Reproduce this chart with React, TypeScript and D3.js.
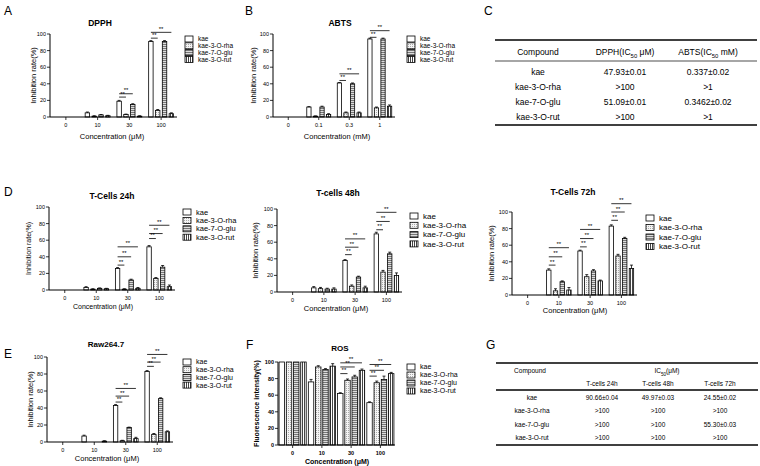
import * as d3 from "d3";
import React from "react";

const seriesNames = ["kae", "kae-3-O-rha", "kae-7-O-glu", "kae-3-O-rut"];
const concUM = ["0", "10", "30", "100"];
const concMM = ["0", "0.1", "0.3", "1"];
const yTicks = [0, 20, 40, 60, 80, 100];

// values per series (kae, rha, glu, rut), one entry per concentration
const dpph = [[0, 5, 19, 91], [0, 1, 3, 8], [0, 2.5, 15, 91], [0, 1.5, 1, 4]];
const dpphErr = [[0, 1, 1, 1], [0, 0.5, 0.5, 1], [0, 0.5, 1, 1], [0, 0.5, 0.5, 1]];
const abts = [[0, 12, 41, 94], [0, 1, 5, 11], [0, 12, 40, 94], [0, 3, 5, 13]];
const abtsErr = [[0, 0.5, 0.5, 1], [0, 0.3, 1, 1], [0, 1, 1, 1], [0, 1, 1, 1.5]];
const tc24 = [[0, 3, 26, 52], [0, 1, 1, 14], [0, 2, 12, 27.5], [0, 1.5, 2, 4]];
const tc24Err = [[0, 1, 1, 1.5], [0, 0.5, 0.5, 1], [0, 0.5, 1, 2], [0, 0.5, 1, 2]];
const tc48 = [[0, 5, 38, 70], [0, 4, 7, 24], [0, 3.5, 18, 46], [0, 3.5, 5, 20]];
const tc48Err = [[0, 1.5, 1, 2], [0, 1.5, 1.5, 2], [0, 1, 1, 2], [0, 1.5, 2, 3]];
const tc72 = [[0, 30, 53, 83], [0, 5, 22, 47], [0, 16, 29, 68], [0, 6, 17, 32]];
const tc72Err = [[0, 1.5, 1, 1.5], [0, 2.5, 2.5, 2], [0, 1, 1.5, 1.5], [0, 3, 1, 4]];
const raw = [[0, 7, 43, 83], [0, 0, 1.5, 9], [0, 0, 17, 51], [0, 1, 4, 12]];
const rawErr = [[0, 1, 1, 1], [0, 0, 0.5, 1], [0, 0, 0.5, 1], [0, 0.5, 1.5, 1]];
const ros = [[100, 76, 62, 51], [100, 94, 78, 75], [100, 91, 82, 79], [100, 95, 90, 86]];
const rosErr = [[0, 3, 1, 1], [0, 1.5, 1.5, 2], [0, 1, 2, 4], [0, 3, 1.5, 1.5]];

// significance brackets: [concentration index, compared series, height (%)]
const dpphSig = [[2, 1, 24], [2, 2, 28], [3, 1, 95], [3, 3, 102]];
const abtsSig = [[2, 1, 44], [2, 3, 52], [3, 1, 96], [3, 3, 104]];
const tc24Sig = [[2, 1, 30], [2, 2, 40], [2, 3, 52], [3, 1, 62], [3, 2, 68], [3, 3, 78]];
const tc48Sig = [[2, 1, 45], [2, 2, 54], [2, 3, 64], [3, 1, 75], [3, 2, 85], [3, 3, 96]];
const tc72Sig = [[1, 1, 36], [1, 2, 46], [1, 3, 57], [2, 1, 58], [2, 2, 68], [2, 3, 79], [3, 1, 90], [3, 2, 100], [3, 3, 110]];
const rawSig = [[2, 1, 47], [2, 2, 54], [2, 3, 63], [3, 1, 89], [3, 2, 94], [3, 3, 103]];
const rosSig = [[2, 1, 86], [2, 2, 94], [2, 3, 99], [3, 1, 83], [3, 2, 90], [3, 3, 97]];

// tables
const dpphIC50 = ["47.93±0.01", ">100", "51.09±0.01", ">100"];
const abtsIC50 = ["0.337±0.02", ">1", "0.3462±0.02", ">1"];
const ic24 = ["90.66±0.04", ">100", ">100", ">100"];
const ic48 = ["49.97±0.03", ">100", ">100", ">100"];
const ic72 = ["24.55±0.02", ">100", "55.30±0.03", ">100"];

const FONT = "Arial, 'Liberation Sans', sans-serif";
const fills = ["#fff", "url(#pRha)", "url(#pGlu)", "url(#pRut)"];

const Panel = (p) => {
  const y = d3.scaleLinear().domain([0, 100]).range([p.bottom, p.top]);
  const x = d3.scaleBand().domain(p.cats).range([p.left, p.right]);
  const xs = d3.scaleBand().domain(d3.range(4)).range([0, x.bandwidth()])
    .paddingInner(p.pi).paddingOuter(p.po);
  const fw = p.bold ? "bold" : "normal";
  const midY = (p.top + p.bottom) / 2;
  return (
    <g fontFamily={FONT}>
      <text x={p.titleX} y={p.titleY} fontSize={p.titleSize} fontWeight="bold" textAnchor="middle">{p.title}</text>
      {p.values.map((vals, s) =>
        vals.map((v, c) => {
          const bx = x(p.cats[c]) + xs(s);
          const bw = xs.bandwidth();
          const e = p.errs[s][c];
          return (
            <g key={s + "-" + c}>
              {v > 0 && <rect x={bx} y={y(v)} width={bw} height={p.bottom - y(v)} fill={fills[s]} stroke="#000" strokeWidth={0.8} />}
              {e > 0 && <g stroke="#000" strokeWidth={0.8}>
                <line x1={bx + bw / 2} x2={bx + bw / 2} y1={y(v)} y2={y(v + e)} />
                <line x1={bx + bw / 2 - 1.5} x2={bx + bw / 2 + 1.5} y1={y(v + e)} y2={y(v + e)} />
              </g>}
            </g>
          );
        })
      )}
      {p.sig.map(([c, s, h], i) => {
        const x1 = x(p.cats[c]) + xs(0) + xs.bandwidth() / 2;
        const x2 = x(p.cats[c]) + xs(s) + xs.bandwidth() / 2;
        return (
          <g key={"s" + i}>
            <line x1={x1} x2={x2} y1={y(h)} y2={y(h)} stroke="#000" strokeWidth={0.8} />
            <text x={(x1 + x2) / 2} y={y(h) - 1.5} fontSize={6} textAnchor="middle">**</text>
          </g>
        );
      })}
      {/* axes */}
      <line x1={p.left} x2={p.left} y1={p.top} y2={p.bottom} stroke="#000" strokeWidth={1} />
      <line x1={p.left} x2={p.right} y1={p.bottom} y2={p.bottom} stroke="#000" strokeWidth={1} />
      {yTicks.map((t) => (
        <g key={"y" + t}>
          <line x1={p.left - 3} x2={p.left} y1={y(t)} y2={y(t)} stroke="#000" strokeWidth={0.8} />
          <text x={p.left - 4} y={y(t)} dy="0.35em" fontSize={p.tickSize} fontWeight={fw} textAnchor="end">{t}</text>
        </g>
      ))}
      {p.cats.map((c) => (
        <g key={"x" + c}>
          <line x1={x(c) + x.bandwidth() / 2} x2={x(c) + x.bandwidth() / 2} y1={p.bottom} y2={p.bottom + 3} stroke="#000" strokeWidth={0.8} />
          <text x={x(c) + x.bandwidth() / 2} y={p.bottom + 4 + p.tickSize} fontSize={p.tickSize} fontWeight={fw} textAnchor="middle">{c}</text>
        </g>
      ))}
      <text x={p.xLabelX} y={p.xLabelY} fontSize={p.axisSize} fontWeight={fw} textAnchor="middle">{p.xLabel}</text>
      <text transform={`translate(${p.yLabelX},${midY}) rotate(-90)`} fontSize={p.axisSize} fontWeight={fw} textAnchor="middle">{p.yLabel}</text>
      {seriesNames.map((n, s) => (
        <g key={"l" + s}>
          <rect x={p.legX} y={p.legY + s * p.legStep - 3} width={8} height={6} fill={fills[s]} stroke="#000" strokeWidth={0.8} />
          <text x={p.legX + 13} y={p.legY + s * p.legStep} dy="0.35em" fontSize={p.legSize}>{n}</text>
        </g>
      ))}
    </g>
  );
};

const Sub = ({ t }) => <tspan baselineShift="sub" fontSize="70%">{t}</tspan>;

const App = () => {
  const common = { cats: concUM, pi: 0.35, po: 0.5, yLabel: "Inhibition rate(%)", xLabel: "Concentration (μM)" };
  return (
    <svg width={760} height={466} style={{ position: "absolute", left: 0, top: 0, background: "#fff" }}>
      <defs>
        <pattern id="pRha" patternUnits="userSpaceOnUse" width={2} height={2}>
          <rect width={2} height={2} fill="#f4f4f4" />
          <rect width={1} height={1} fill="#aaa" />
        </pattern>
        <pattern id="pGlu" patternUnits="userSpaceOnUse" width={3} height={2}>
          <rect width={3} height={2} fill="#ddd" />
          <rect width={3} height={1} fill="#777" />
        </pattern>
        <pattern id="pRut" patternUnits="userSpaceOnUse" width={2} height={3}>
          <rect width={2} height={3} fill="#fff" />
          <rect width={1} height={3} fill="#444" />
        </pattern>
      </defs>
      <g fontFamily={FONT} fontSize={12}>
        <text x={4} y={15}>A</text>
        <text x={245} y={15}>B</text>
        <text x={484} y={15}>C</text>
        <text x={4} y={196}>D</text>
        <text x={4} y={358}>E</text>
        <text x={246} y={349}>F</text>
        <text x={486} y={349}>G</text>
      </g>

      <Panel {...common} values={dpph} errs={dpphErr} sig={dpphSig}
        left={50} right={177} top={34} bottom={117}
        title="DPPH" titleX={100} titleY={26} titleSize={8.5}
        xLabelX={112} xLabelY={139} yLabelX={36} axisSize={7.5} tickSize={5.5}
        legX={185} legY={39} legStep={6.8} legSize={6.5} />
      <Panel {...common} cats={concMM} xLabel="Concentration (mM)" values={abts} errs={abtsErr} sig={abtsSig}
        left={273} right={395} top={34} bottom={117}
        title="ABTS" titleX={340} titleY={26} titleSize={8.5}
        xLabelX={337} xLabelY={139} yLabelX={256} axisSize={7.5} tickSize={5.5}
        legX={407} legY={39} legStep={6.8} legSize={6.5} />

      <Panel {...common} values={tc24} errs={tc24Err} sig={tc24Sig}
        left={49} right={175} top={207} bottom={290}
        title="T-Cells 24h" titleX={112} titleY={199} titleSize={8.5}
        xLabelX={103} xLabelY={309} yLabelX={31} axisSize={7} tickSize={5.5}
        legX={183} legY={212} legStep={8.4} legSize={7.5} />
      <Panel {...common} values={tc48} errs={tc48Err} sig={tc48Sig}
        left={277} right={402} top={209} bottom={292}
        title="T-cells 48h" titleX={338} titleY={196} titleSize={8.5}
        xLabelX={336} xLabelY={311} yLabelX={258} axisSize={7.5} tickSize={5.5}
        legX={410} legY={216} legStep={9.3} legSize={8} />
      <Panel {...common} values={tc72} errs={tc72Err} sig={tc72Sig}
        left={512} right={637} top={212} bottom={295}
        title="T-Cells 72h" titleX={573} titleY={195} titleSize={8.5}
        xLabelX={575} xLabelY={313} yLabelX={494} axisSize={7.5} tickSize={5.5}
        legX={646} legY={218} legStep={9.5} legSize={8} />

      <Panel {...common} values={raw} errs={rawErr} sig={rawSig}
        left={47} right={173} top={357} bottom={442}
        title="Raw264.7" titleX={106} titleY={347} titleSize={8}
        xLabelX={107} xLabelY={461} yLabelX={33} axisSize={7.5} tickSize={5.5}
        legX={183} legY={362} legStep={7.7} legSize={7} />
      <Panel {...common} pi={0.25} po={0.15} values={ros} errs={rosErr} sig={rosSig}
        yLabel="Fluorescence intensity(%)" bold
        left={278} right={395} top={362} bottom={445}
        title="ROS" titleX={340} titleY={351} titleSize={8}
        xLabelX={337} xLabelY={464} yLabelX={259} axisSize={7} tickSize={5.5}
        legX={407} legY={367} legStep={8} legSize={7} />

      {/* table C */}
      <g fontFamily={FONT} fontSize={8.5} textAnchor="middle">
        <line x1={495} x2={757} y1={40} y2={40} stroke="#000" strokeWidth={1.5} />
        <line x1={495} x2={757} y1={61} y2={61} stroke="#000" strokeWidth={0.7} />
        <line x1={495} x2={757} y1={125} y2={125} stroke="#000" strokeWidth={1.5} />
        <text x={538} y={55}>Compound</text>
        <text x={625} y={55}>DPPH(IC<Sub t="50" /> μM)</text>
        <text x={708} y={55}>ABTS(IC<Sub t="50" /> mM)</text>
        {seriesNames.map((n, i) => (
          <g key={"c" + i}>
            <text x={538} y={75 + i * 15}>{n}</text>
            <text x={625} y={75 + i * 15}>{dpphIC50[i]}</text>
            <text x={708} y={75 + i * 15}>{abtsIC50[i]}</text>
          </g>
        ))}
      </g>

      {/* table G */}
      <g fontFamily={FONT} fontSize={6.5} textAnchor="middle">
        <line x1={496} x2={758} y1={363} y2={363} stroke="#000" strokeWidth={1.3} />
        <line x1={496} x2={758} y1={390} y2={390} stroke="#000" strokeWidth={1.3} />
        <line x1={496} x2={758} y1={445} y2={445} stroke="#000" strokeWidth={1.3} />
        <text x={530} y={373}>Compound</text>
        <text x={667} y={373}>IC<Sub t="50" />(μM)</text>
        <text x={602} y={386}>T-cells 24h</text>
        <text x={658} y={386}>T-cells 48h</text>
        <text x={720} y={386}>T-cells 72h</text>
        {seriesNames.map((n, i) => (
          <g key={"g" + i}>
            <text x={532} y={400 + i * 13.4}>{n}</text>
            <text x={602} y={400 + i * 13.4}>{ic24[i]}</text>
            <text x={658} y={400 + i * 13.4}>{ic48[i]}</text>
            <text x={720} y={400 + i * 13.4}>{ic72[i]}</text>
          </g>
        ))}
      </g>
    </svg>
  );
};

export default App;
